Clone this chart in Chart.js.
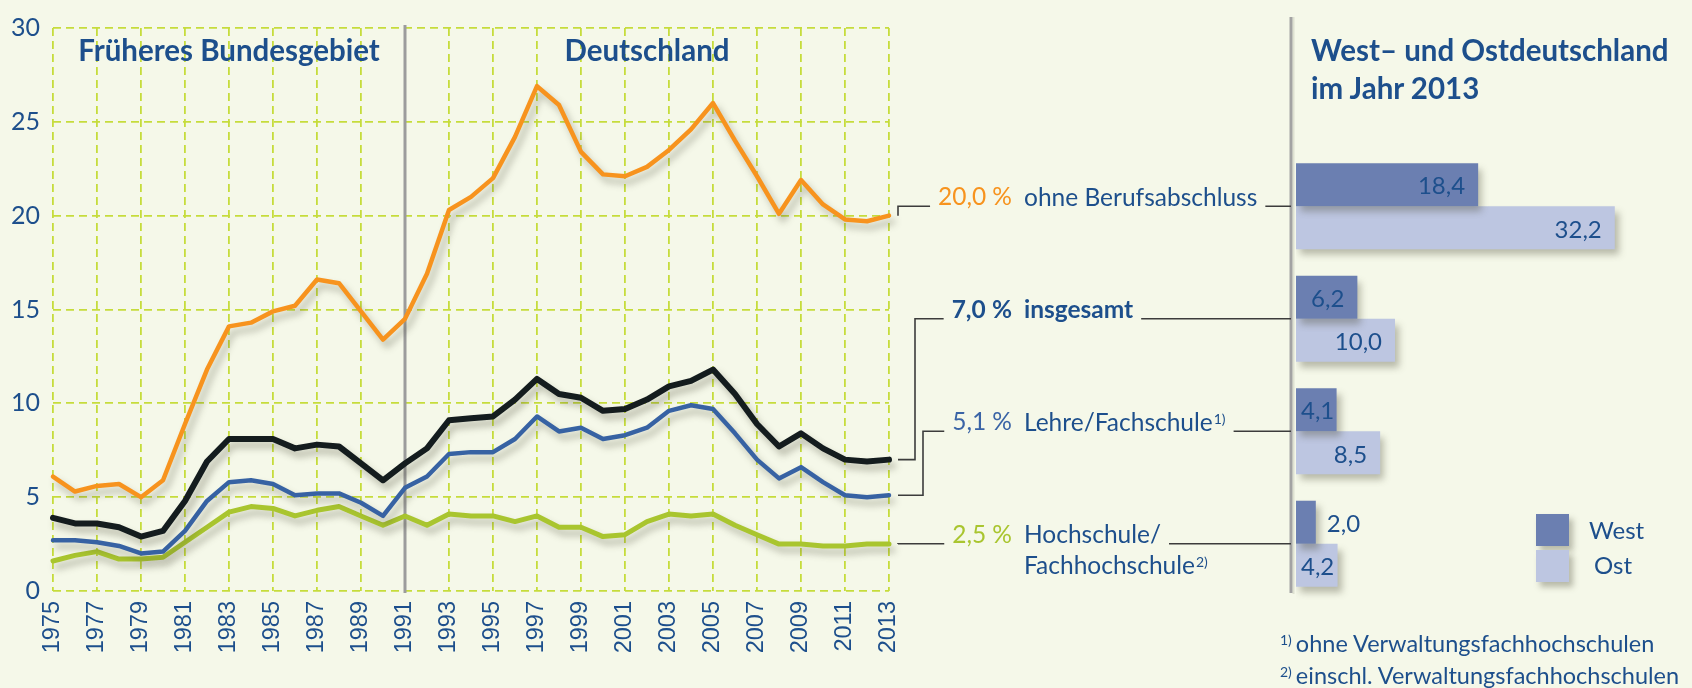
<!DOCTYPE html>
<html><head><meta charset="utf-8">
<script src="https://cdn.jsdelivr.net/npm/chart.js@4"></script>
<style>
html,body{margin:0;padding:0;background:#f5f8e9;}
body{width:1692px;height:688px;position:relative;overflow:hidden;font-family:Lato,"Open Sans",sans-serif;color:#1d4f8c;}
canvas{position:absolute;left:0;top:0;}
#bars{pointer-events:none;}
.t{position:absolute;white-space:nowrap;}
.ttl{font-weight:700;font-size:29.5px;line-height:32px;top:34px;}
.rt{left:1311px;top:31px;font-weight:700;font-size:29.5px;line-height:38px;}
.pct,.nm{font-size:24.5px;line-height:28px;}
.nm{left:1024px;line-height:31px;}
sup{font-size:14px;vertical-align:top;position:relative;top:-3px;margin-left:1px;}
.fn sup{margin-right:4px;margin-left:0;}
.sw{position:absolute;width:33px;height:32px;box-shadow:4px 5px 6px rgba(70,70,50,0.35);}
.lg{font-size:24px;line-height:28px;}
.fn{font-size:23.5px;line-height:28px;left:1280px;}
</style></head><body>
<canvas id="lines" width="1692" height="688"></canvas>
<canvas id="bars" width="1692" height="688"></canvas>
<div id="overlay"></div>
<script>
// ---------- data ----------
const years = ['1975','1976','1977','1978','1979','1980','1981','1982','1983','1984',
  '1985','1986','1987','1988','1989','1990','1991','1992','1993','1994',
  '1995','1996','1997','1998','1999','2000','2001','2002','2003','2004',
  '2005','2006','2007','2008','2009','2010','2011','2012','2013'];
const xTickLabels = ['1975','1977','1979','1981','1983','1985','1987','1989','1991','1993',
  '1995','1997','1999','2001','2003','2005','2007','2009','2011','2013'];
const yTickStep = 5, yMin = 0, yMax = 30;
const dividerYear = '1991';
const periodTitles = ['Früheres Bundesgebiet', 'Deutschland'];

const ohneBerufsabschluss = [6.1,5.3,5.6,5.7,5.0,5.9,8.9,11.8,14.1,14.3,
  14.9,15.2,16.6,16.4,14.9,13.4,14.5,16.9,20.3,21.0,
  22.0,24.2,26.9,25.9,23.4,22.2,22.1,22.6,23.5,24.6,
  26.0,24.0,22.1,20.1,21.9,20.6,19.8,19.7,20.0];
const insgesamt = [3.9,3.6,3.6,3.4,2.9,3.2,4.8,6.9,8.1,8.1,
  8.1,7.6,7.8,7.7,6.8,5.9,6.8,7.6,9.1,9.2,
  9.3,10.2,11.3,10.5,10.3,9.6,9.7,10.2,10.9,11.2,
  11.8,10.5,8.9,7.7,8.4,7.6,7.0,6.9,7.0];
const lehreFachschule = [2.7,2.7,2.6,2.4,2.0,2.1,3.2,4.8,5.8,5.9,
  5.7,5.1,5.2,5.2,4.7,4.0,5.5,6.1,7.3,7.4,
  7.4,8.1,9.3,8.5,8.7,8.1,8.3,8.7,9.6,9.9,
  9.7,8.4,7.0,6.0,6.6,5.8,5.1,5.0,5.1];
const hochschule = [1.6,1.9,2.1,1.7,1.7,1.8,2.6,3.4,4.2,4.5,
  4.4,4.0,4.3,4.5,4.0,3.5,4.0,3.5,4.1,4.0,
  4.0,3.7,4.0,3.4,3.4,2.9,3.0,3.7,4.1,4.0,
  4.1,3.5,3.0,2.5,2.5,2.4,2.4,2.5,2.5];

const seriesNames = ['ohne Berufsabschluss', 'insgesamt', 'Lehre/Fachschule', 'Hochschule/|Fachhochschule'];
const seriesNotes = ['', '', '1)', '2)'];
const barTitle = ['West– und Ostdeutschland', 'im Jahr 2013'];
const barSeriesNames = ['West', 'Ost'];
const west2013 = [18.4, 6.2, 4.1, 2.0];
const ost2013 = [32.2, 10.0, 8.5, 4.2];
const footnoteMarks = ['1)', '2)'];
const footnotes = ['ohne Verwaltungsfachhochschulen', 'einschl. Verwaltungsfachhochschulen'];

// ---------- styles ----------
const lineColors = ['#f7931e', '#141c1e', '#3762a3', '#a9c52f'];
const lineWidths = [4.5, 6, 4.5, 5];
const pctColors = ['#f7931e', '#1d4f8c', '#3a64a6', '#a9c52f'];
const boldRow = [false, true, false, false];
const barColors = ['#6b7fb1', '#bdc6e1'];
const textBlue = '#1d4f8c';
const gridColor = '#c6dc3c';
const elbowX = [null, 915, 923, null];

Chart.defaults.font.family = 'Lato';
const fmt = v => v.toFixed(1).replace('.', ',');

const shadowPlugin = {
  id: 'shadow',
  beforeDatasetDraw(chart) {
    const c = chart.ctx; c.save();
    c.shadowColor = 'rgba(70,70,50,0.35)'; c.shadowBlur = 7;
    c.shadowOffsetX = 4; c.shadowOffsetY = 6;
  },
  afterDatasetDraw(chart) { chart.ctx.restore(); }
};

const dividerPlugin = {
  id: 'divider',
  beforeDatasetsDraw(chart) {
    const c = chart.ctx, a = chart.chartArea;
    const x = chart.scales.x.getPixelForValue(years.indexOf(dividerYear));
    c.save(); c.strokeStyle = '#9c9c9c'; c.lineWidth = 3;
    c.beginPath(); c.moveTo(x, a.top - 3); c.lineTo(x, a.bottom + 2); c.stroke(); c.restore();
  }
};

const lineSeries = [ohneBerufsabschluss, insgesamt, lehreFachschule, hochschule];
const lineChart = new Chart(document.getElementById('lines'), {
  type: 'line',
  data: {
    labels: years,
    datasets: lineSeries.map((d, i) => ({
      label: seriesNames[i].replace('|', ' '), data: d,
      borderColor: lineColors[i], borderWidth: lineWidths[i],
      pointRadius: 0, tension: 0, borderJoinStyle: 'round', borderCapStyle: 'round', clip: false
    }))
  },
  options: {
    responsive: false, animation: false, devicePixelRatio: 1,
    layout: { padding: { top: 18, right: 803, left: 0, bottom: 0 } },
    plugins: { legend: { display: false }, tooltip: { enabled: false } },
    scales: {
      x: {
        type: 'category', offset: false,
        grid: { color: ctx => xTickLabels.includes(years[ctx.index]) ? gridColor : 'rgba(0,0,0,0)', lineWidth: 1.8, drawTicks: false },
        border: { display: false, dash: [8, 5] },
        ticks: {
          autoSkip: false, maxRotation: 90, minRotation: 90, padding: 10, color: textBlue,
          font: { family: '"Liberation Sans", Arial', size: 23.5 },
          callback: function (v) { const l = this.getLabelForValue(v); return xTickLabels.includes(l) ? l : ''; }
        },
        afterFit: s => { s.height = 97; }
      },
      y: {
        min: yMin, max: yMax,
        grid: { color: gridColor, lineWidth: 1.8, drawTicks: false },
        border: { display: false, dash: [8, 5] },
        ticks: { stepSize: yTickStep, padding: 13, color: textBlue, font: { size: 25 } },
        afterFit: s => { s.width = 53; }
      }
    }
  },
  plugins: [dividerPlugin, shadowPlugin]
});

// ---------- bar chart (overlay, same coordinate system) ----------
const geom = [];
const barLabelPlugin = {
  id: 'barLabels',
  afterDatasetsDraw(chart) {
    const c = chart.ctx;
    c.save(); c.font = '24px Lato'; c.fillStyle = textBlue; c.textBaseline = 'middle';
    chart.data.datasets.forEach((ds, di) => {
      chart.getDatasetMeta(di).data.forEach((bar, i) => {
        const txt = fmt(ds.data[i]);
        const tw = c.measureText(txt).width;
        const w = bar.x - bar.base;
        let x;
        if (w < tw) x = bar.x + 11;
        else x = Math.max(bar.x - 13 - tw, bar.base + 5);
        c.textAlign = 'left';
        c.fillText(txt, x, bar.y + 2);
      });
    });
    c.restore();
  }
};
const gutterPlugin = {
  id: 'gutter',
  beforeDatasetsDraw(chart) {
    const c = chart.ctx, a = chart.chartArea;
    const x = a.left - 5;
    c.save();
    c.strokeStyle = 'rgba(120,120,100,0.18)'; c.lineWidth = 2;
    c.beginPath(); c.moveTo(x + 2.5, 17); c.lineTo(x + 2.5, a.bottom - 6); c.stroke();
    c.strokeStyle = '#a3a3a3'; c.lineWidth = 3;
    c.beginPath(); c.moveTo(x, 17); c.lineTo(x, a.bottom - 7); c.stroke();
    c.restore();
  },
  afterDraw(chart) {
    if (!geom.length) return;
    const c = chart.ctx, a = chart.chartArea;
    const gx = a.left - 5;
    c.save(); c.strokeStyle = '#3c3c3c'; c.lineWidth = 1.6;
    lineSeries.forEach((d, i) => {
      const meta = lineChart.getDatasetMeta(i);
      const pt = meta.data[meta.data.length - 1];
      const rowY = chart.scales.y.getPixelForValue(i);
      const g = geom[i];
      c.beginPath();
      c.moveTo(pt.x + 9, pt.y);
      if (elbowX[i] !== null) { c.lineTo(elbowX[i], pt.y); c.lineTo(elbowX[i], rowY); }
      else { c.lineTo(pt.x + 9, rowY); }
      c.lineTo(g.pctLeft - 8, rowY);
      c.moveTo(g.nameRight + 8, rowY);
      c.lineTo(gx, rowY);
      c.stroke();
    });
    c.restore();
  }
};

const barChart = new Chart(document.getElementById('bars'), {
  type: 'bar',
  data: {
    labels: seriesNames.map(s => s.replace('|', ' ')),
    datasets: [west2013, ost2013].map((d, i) => ({
      label: barSeriesNames[i], data: d, backgroundColor: barColors[i],
      borderWidth: 0, barPercentage: 1, categoryPercentage: 0.765
    }))
  },
  options: {
    indexAxis: 'y', responsive: false, animation: false, devicePixelRatio: 1,
    layout: { padding: { top: 150, right: 0, left: 1296, bottom: 88 } },
    plugins: { legend: { display: false }, tooltip: { enabled: false } },
    scales: {
      x: { display: false, min: 0, max: 40 },
      y: { display: false }
    }
  },
  plugins: [gutterPlugin, shadowPlugin, barLabelPlugin]
});

// ---------- HTML text ----------
const ov = document.getElementById('overlay');
function add(cls, html, style) {
  const d = document.createElement('div'); d.className = 't ' + cls; d.innerHTML = html;
  Object.assign(d.style, style || {}); ov.appendChild(d); return d;
}
// period titles
const xs = lineChart.scales.x;
const bounds = [[0, years.indexOf(dividerYear)], [years.indexOf(dividerYear), years.length - 1]];
periodTitles.forEach((t, i) => {
  const el = add('ttl', t);
  const cx = (xs.getPixelForValue(bounds[i][0]) + xs.getPixelForValue(bounds[i][1])) / 2;
  el.style.left = (cx - el.getBoundingClientRect().width / 2) + 'px';
});
// right title
add('rt', barTitle.join('<br>'));
// row labels
const ys = barChart.scales.y;
seriesNames.forEach((name, i) => {
  const rowY = ys.getPixelForValue(i);
  const last = lineSeries[i][lineSeries[i].length - 1];
  const p = add('pct', fmt(last) + '\u202F%', {
    right: (1692 - 1012) + 'px', top: (rowY - 24) + 'px', color: pctColors[i],
    fontWeight: boldRow[i] ? '700' : '400'
  });
  const lines = name.split('|');
  const html = lines.map((l, k) => '<span>' + l + (k === lines.length - 1 && seriesNotes[i] ? '<sup>' + seriesNotes[i] + '</sup>' : '') + '</span>').join('<br>');
  const n = add('nm', html, { top: (rowY - 25.5) + 'px', fontWeight: boldRow[i] ? '700' : '400' });
  const first = n.querySelector('span');
  geom[i] = { pctLeft: p.getBoundingClientRect().left, nameRight: first.getBoundingClientRect().right };
});
// legend
barSeriesNames.forEach((s, i) => {
  const sw = document.createElement('div'); sw.className = 'sw';
  Object.assign(sw.style, { left: '1536px', top: (514 + i * 36) + 'px', background: barColors[i] });
  ov.appendChild(sw);
  add('lg', s, { left: (1589 + i * 5) + 'px', top: (516 + i * 35) + 'px' });
});
// footnotes
footnotes.forEach((f, i) => {
  add('fn', '<sup>' + footnoteMarks[i] + '</sup>' + f, { top: (629 + i * 32) + 'px' });
});
barChart.draw();
</script>
</body></html>
